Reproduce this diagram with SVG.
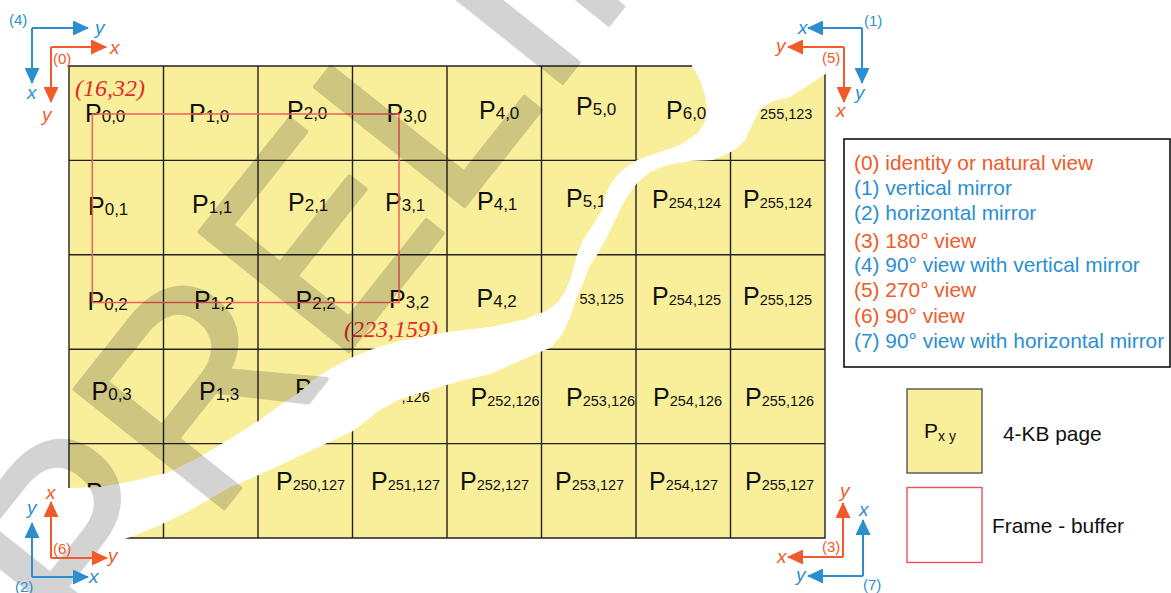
<svg xmlns="http://www.w3.org/2000/svg" width="1171" height="593" viewBox="0 0 1171 593">
<style>
.p{font-family:"Liberation Sans",Arial,sans-serif;font-size:25px;fill:#111}
.s{font-size:17px}
.sl{font-size:14.5px}
.ax{font-family:"Liberation Sans",Arial,sans-serif;font-style:italic;font-size:19px}
.n{font-family:"Liberation Sans",Arial,sans-serif;font-size:15px}
.b{fill:#2b8fcf}
.o{fill:#f15a29}
.lb{stroke:#2b8fcf;stroke-width:2;fill:none;marker-end:url(#ab)}
.lo{stroke:#f15a29;stroke-width:2;fill:none;marker-end:url(#ao)}
.lg{font-family:"Liberation Sans",Arial,sans-serif;font-size:20.9px}
.rl{font-family:"Liberation Serif","Times New Roman",serif;font-style:italic;font-size:24px;fill:#e3262f}
.grid{stroke:#222;stroke-width:1.4;fill:none}
</style>
<defs>
<marker id="ab" markerUnits="userSpaceOnUse" markerWidth="16" markerHeight="15" refX="15" refY="7.5" orient="auto"><path d="M0,0 L16,7.5 L0,15 Z" fill="#2b8fcf"/></marker>
<marker id="ao" markerUnits="userSpaceOnUse" markerWidth="16" markerHeight="15" refX="15" refY="7.5" orient="auto"><path d="M0,0 L16,7.5 L0,15 Z" fill="#f15a29"/></marker>
</defs>
<rect width="1171" height="593" fill="#fff"/>
<g id="pages">
<rect x="69" y="66" width="756" height="472" fill="#f9ef9b"/>
<path class="grid" d="M69,66 H825 V538 H69 Z M163.5,66 V538 M258,66 V538 M352.5,66 V538 M447,66 V538 M541.5,66 V538 M636,66 V538 M730.5,66 V538 M69,160.4 H825 M69,254.8 H825 M69,349.2 H825 M69,443.6 H825"/>
</g>
<g id="labels">
<text class="p" x="85" y="122">P<tspan class="s">0,0</tspan></text>
<text class="p" x="189" y="122">P<tspan class="s">1,0</tspan></text>
<text class="p" x="287" y="118.5">P<tspan class="s">2,0</tspan></text>
<text class="p" x="386.5" y="122">P<tspan class="s">3,0</tspan></text>
<text class="p" x="479" y="118.5">P<tspan class="s">4,0</tspan></text>
<text class="p" x="576" y="115">P<tspan class="s">5,0</tspan></text>
<text class="p" x="666" y="119">P<tspan class="s">6,0</tspan></text>
<text class="p sl" x="760" y="118.5">255,123</text>
<text class="p" x="88" y="215">P<tspan class="s">0,1</tspan></text>
<text class="p" x="192" y="213">P<tspan class="s">1,1</tspan></text>
<text class="p" x="288" y="211">P<tspan class="s">2,1</tspan></text>
<text class="p" x="385" y="211">P<tspan class="s">3,1</tspan></text>
<text class="p" x="477" y="210">P<tspan class="s">4,1</tspan></text>
<text class="p" x="566" y="207">P<tspan class="s">5,1</tspan></text>
<text class="p" x="652" y="207.5">P<tspan class="sl">254,124</tspan></text>
<text class="p" x="743" y="207.5">P<tspan class="sl">255,124</tspan></text>
<text class="p" x="87.5" y="310">P<tspan class="s">0,2</tspan></text>
<text class="p" x="194" y="309">P<tspan class="s">1,2</tspan></text>
<text class="p" x="295.5" y="309">P<tspan class="s">2,2</tspan></text>
<text class="p" x="389" y="308">P<tspan class="s">3,2</tspan></text>
<text class="p" x="476.5" y="306.5">P<tspan class="s">4,2</tspan></text>
<text class="p sl" x="579.5" y="304">53,125</text>
<text class="p" x="652" y="304.5">P<tspan class="sl">254,125</tspan></text>
<text class="p" x="743" y="304.5">P<tspan class="sl">255,125</tspan></text>
<text class="p" x="91.5" y="400">P<tspan class="s">0,3</tspan></text>
<text class="p" x="199" y="400">P<tspan class="s">1,3</tspan></text>
<text class="p" x="295" y="397">P</text>
<text class="p sl" x="401.5" y="401.5">,126</text>
<text class="p" x="470.5" y="405.5">P<tspan class="sl">252,126</tspan></text>
<text class="p" x="566" y="405.5">P<tspan class="sl">253,126</tspan></text>
<text class="p" x="653" y="405.5">P<tspan class="sl">254,126</tspan></text>
<text class="p" x="745" y="405.5">P<tspan class="sl">255,126</tspan></text>
<text class="p" x="86" y="501">P</text>
<text class="p" x="276" y="490">P<tspan class="sl">250,127</tspan></text>
<text class="p" x="371" y="490">P<tspan class="sl">251,127</tspan></text>
<text class="p" x="460" y="490">P<tspan class="sl">252,127</tspan></text>
<text class="p" x="555" y="490">P<tspan class="sl">253,127</tspan></text>
<text class="p" x="649" y="490">P<tspan class="sl">254,127</tspan></text>
<text class="p" x="745" y="490">P<tspan class="sl">255,127</tspan></text>
</g>
<g id="framebuffer">
<rect x="92.3" y="114" width="306.7" height="188.5" fill="none" stroke="#f0605a" stroke-width="1.5"/>
<text class="rl" x="75" y="96">(16,32)</text>
<text class="rl" x="344" y="337">(223,159)</text>
</g>
<path id="tear" fill="#fff" d="M690,40 L692,66 L700,80 L705,95 L707,110 L705,122 L697,134 L680,145 L660,152 L637,160 L620,172 L610,185 L605,197 L602,210 L593,225 L583,240 L576,258 L571,277 L565,292 L557,303 L546,311 L523,320 L490,327 L440,333 L400,341 L375,348 L353,357 L330,369 L313,380 L300,392 L283,403 L260,420 L233,437 L200,457 L167,473 L133,481 L100,487 L69,488 L-20,489 L-20,610 L60,570 L110,544 L133,536 L160,525 L187,512 L227,489 L270,470 L310,451 L353,431 L380,410 L400,399 L430,390 L460,381 L490,374 L540,352 L550,348 L562,335 L570,317 L577,297 L583,283 L590,265 L597,255 L607,237 L620,210 L627,197 L637,183 L650,172 L667,165 L690,161 L713,160 L735,150 L745,140 L752,125 L760,109 L773,101 L790,97 L807,86 L827,73 L845,55 L850,40 Z"/>
<g id="watermark" opacity="0.17">
<text transform="translate(94.5,671.2) rotate(-51.5)" font-family="Liberation Sans, Arial, sans-serif" font-size="278" fill="#000" stroke="#000" stroke-width="4" stroke-linejoin="round">PRELIMINARY</text>
</g>
<g id="axes">
<g id="ax4"><path class="lb" d="M32,28 H88"/><path class="lb" d="M32,28 V83"/><text class="ax b" x="95" y="34">y</text><text class="ax b" x="27" y="99">x</text><text class="n b" x="9" y="25">(4)</text></g>
<g id="ax0"><path class="lo" d="M51,47 H106"/><path class="lo" d="M51,47 V102"/><text class="ax o" x="110" y="54">x</text><text class="ax o" x="42" y="121">y</text><text class="n o" x="53" y="64">(0)</text></g>
<g id="ax1"><path class="lb" d="M862,28 H808"/><path class="lb" d="M862,28 V83"/><text class="ax b" x="798" y="34">x</text><text class="ax b" x="855" y="99">y</text><text class="n b" x="864" y="26">(1)</text></g>
<g id="ax5"><path class="lo" d="M844,47 H788"/><path class="lo" d="M844,47 V102"/><text class="ax o" x="776" y="52">y</text><text class="ax o" x="836" y="117">x</text><text class="n o" x="822" y="63">(5)</text></g>
<g id="ax2"><path class="lb" d="M32,577 V523"/><path class="lb" d="M32,577 H88"/><text class="ax b" x="27" y="514">y</text><text class="ax b" x="89" y="583">x</text><text class="n b" x="15" y="592">(2)</text></g>
<g id="ax6"><path class="lo" d="M51,558 V502"/><path class="lo" d="M51,558 H107"/><text class="ax o" x="46" y="499">x</text><text class="ax o" x="108" y="562">y</text><text class="n o" x="53" y="554">(6)</text></g>
<g id="ax3"><path class="lo" d="M843,557 V503"/><path class="lo" d="M843,557 H788"/><text class="ax o" x="840" y="497">y</text><text class="ax o" x="777" y="563">x</text><text class="n o" x="822" y="552">(3)</text></g>
<g id="ax7"><path class="lb" d="M863,576 V520"/><path class="lb" d="M863,576 H808"/><text class="ax b" x="859" y="516">x</text><text class="ax b" x="796" y="581">y</text><text class="n b" x="863" y="590">(7)</text></g>
</g>
<g id="legend">
<rect x="844" y="139" width="326" height="228" fill="#fff" stroke="#111" stroke-width="1.6"/>
<text class="lg o" x="854" y="170">(0) identity or natural view</text>
<text class="lg b" x="854" y="195">(1) vertical mirror</text>
<text class="lg b" x="854" y="220">(2) horizontal mirror</text>
<text class="lg o" x="854" y="248">(3) 180° view</text>
<text class="lg b" x="854" y="272">(4) 90° view with vertical mirror</text>
<text class="lg o" x="854" y="297">(5) 270° view</text>
<text class="lg o" x="854" y="323">(6) 90° view</text>
<text class="lg b" x="854" y="348">(7) 90° view with horizontal mirror</text>
</g>
<g id="key-page">
<rect x="907" y="389" width="75" height="84" fill="#f9ef9b" stroke="#555" stroke-width="1.4"/>
<text class="p" x="924" y="438" style="font-size:21px">P<tspan style="font-size:14px" dy="3">x y</tspan></text>
<text class="lg" x="1003" y="441" fill="#111">4-KB page</text>
</g>
<g id="key-frame">
<rect x="907" y="487.5" width="75" height="75" fill="#fff" stroke="#f0505a" stroke-width="1.4"/>
<text class="lg" x="992" y="533" fill="#111">Frame - buffer</text>
</g>
</svg>
